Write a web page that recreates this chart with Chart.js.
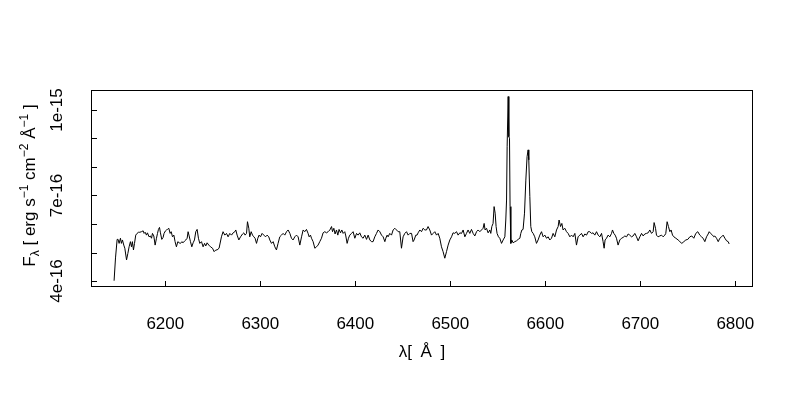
<!DOCTYPE html>
<html>
<head>
<meta charset="utf-8">
<title>Spectrum</title>
<script src="https://cdn.jsdelivr.net/npm/chart.js@4/dist/chart.umd.min.js"></script>
<style>
    body { margin: 0; background: #fff; }
    canvas { display: block; }
</style>
</head>
<body>
<canvas id="spectrum" width="800" height="400"></canvas>
<script>
// wavelength in Angstrom, flux in units of 1e-16 erg s^-1 cm^-2 A^-1
const wavelength = [
    6146.1, 6147.6, 6149.3, 6150.3, 6151.4, 6152.8, 6153.8, 6154.9, 6156.3, 6157.4,
    6159.2, 6160.6, 6161.9, 6163.3, 6164.4, 6165.4, 6166.5, 6167.6, 6168.9, 6170.3,
    6171.8, 6173.2, 6174.9, 6176.7, 6177.7, 6178.8, 6180.2, 6181.2, 6182.9, 6184.3,
    6185.5, 6186.5, 6187.9, 6189.3, 6190.7, 6191.8, 6192.8, 6193.9, 6194.9, 6196.3,
    6197.7, 6198.7, 6200.2, 6201.2, 6202.3, 6203.7, 6205.1, 6206.2, 6207.6, 6209.0,
    6210.3, 6211.7, 6213.2, 6214.6, 6216.0, 6217.4, 6218.7, 6220.5, 6221.6, 6223.0,
    6224.0, 6225.1, 6226.5, 6227.9, 6229.3, 6230.7, 6232.1, 6233.5, 6234.9, 6236.3,
    6238.1, 6239.8, 6241.3, 6242.6, 6244.0, 6245.8, 6247.6, 6249.7, 6251.4, 6253.2,
    6254.5, 6256.6, 6259.1, 6260.8, 6262.6, 6264.4, 6266.1, 6267.9, 6269.7, 6271.4,
    6273.2, 6274.2, 6275.6, 6277.4, 6279.2, 6281.3, 6282.6, 6284.0, 6285.5, 6286.5,
    6287.9, 6288.9, 6290.4, 6291.8, 6293.2, 6294.5, 6296.0, 6297.4, 6298.7, 6300.2,
    6301.9, 6303.7, 6305.5, 6307.2, 6308.9, 6310.0, 6311.8, 6313.5, 6315.3, 6317.0,
    6318.7, 6320.5, 6322.3, 6324.0, 6325.8, 6327.6, 6329.3, 6331.1, 6332.8, 6334.5,
    6336.3, 6338.1, 6339.8, 6341.6, 6343.4, 6345.1, 6346.8, 6348.6, 6350.3, 6351.4,
    6352.8, 6353.9, 6355.6, 6357.4, 6359.2, 6360.8, 6362.6, 6364.4, 6366.1, 6367.9,
    6369.7, 6371.4, 6373.2, 6375.0, 6376.0, 6377.4, 6378.7, 6380.2, 6381.6, 6382.9,
    6384.4, 6385.8, 6387.2, 6388.9, 6390.0, 6391.4, 6392.8, 6394.2, 6396.0, 6397.7,
    6399.5, 6401.3, 6403.0, 6404.7, 6406.5, 6408.2, 6410.0, 6411.8, 6413.5, 6415.3,
    6417.0, 6418.7, 6420.5, 6422.3, 6424.0, 6425.8, 6427.6, 6429.3, 6431.1, 6432.1,
    6433.5, 6434.5, 6436.3, 6438.1, 6439.8, 6441.6, 6443.4, 6445.1, 6446.8, 6448.6,
    6450.3, 6452.1, 6453.9, 6455.6, 6457.4, 6459.2, 6460.8, 6461.9, 6463.7, 6465.0,
    6466.1, 6467.9, 6469.7, 6471.4, 6473.2, 6474.9, 6476.6, 6478.4, 6480.2, 6481.9,
    6483.7, 6485.5, 6487.2, 6488.9, 6490.7, 6492.4, 6494.2, 6496.0, 6497.7, 6499.5,
    6501.3, 6502.9, 6504.7, 6506.5, 6508.2, 6510.0, 6511.8, 6513.5, 6515.3, 6517.0,
    6518.7, 6520.5, 6522.3, 6524.0, 6525.8, 6527.6, 6529.3, 6531.1, 6532.8, 6534.5,
    6535.6, 6536.6, 6538.1, 6539.8, 6541.6, 6542.6, 6543.7, 6545.0, 6546.1, 6547.2,
    6548.2, 6549.2, 6550.7, 6552.1, 6553.9, 6555.6, 6557.4, 6558.4, 6559.2, 6559.8,
    6560.9, 6561.6, 6562.3, 6562.9, 6563.7, 6564.7, 6566.1, 6567.9, 6569.7, 6571.4,
    6573.2, 6574.2, 6575.3, 6576.6, 6578.1, 6579.5, 6580.8, 6581.9, 6582.6, 6583.7,
    6584.7, 6585.8, 6587.2, 6588.9, 6590.7, 6592.4, 6594.2, 6596.0, 6597.7, 6599.5,
    6601.3, 6603.0, 6604.7, 6606.5, 6608.2, 6610.0, 6611.8, 6613.5, 6614.5, 6616.0,
    6617.4, 6618.7, 6620.5, 6622.3, 6624.0, 6625.8, 6627.6, 6629.3, 6631.1, 6632.8,
    6634.5, 6636.3, 6638.1, 6639.8, 6641.6, 6643.4, 6645.1, 6646.8, 6648.6, 6650.3,
    6652.1, 6653.9, 6655.6, 6657.4, 6659.2, 6660.8, 6661.9, 6662.9, 6664.4, 6666.1,
    6667.9, 6669.7, 6670.7, 6672.1, 6673.5, 6674.9, 6676.6, 6678.4, 6680.2, 6681.9,
    6683.7, 6685.5, 6687.2, 6688.9, 6690.7, 6692.4, 6694.2, 6696.0, 6697.7, 6699.5,
    6701.3, 6703.0, 6704.7, 6706.5, 6708.2, 6710.0, 6711.8, 6713.5, 6714.5, 6716.0,
    6717.0, 6718.7, 6720.5, 6722.3, 6724.0, 6725.8, 6726.8, 6728.2, 6729.6, 6731.1,
    6732.4, 6733.9, 6735.3, 6737.4, 6739.8, 6741.6, 6743.7, 6745.8, 6747.9, 6750.0,
    6752.1, 6754.2, 6756.3, 6758.4, 6760.5, 6762.6, 6764.4, 6766.1, 6767.9, 6769.7,
    6771.4, 6772.5, 6773.9, 6776.0, 6777.4, 6778.4, 6780.2, 6782.0, 6783.7, 6785.5,
    6787.2, 6789.0, 6790.8, 6792.5, 6793.5
]

const flux = [
    4.01, 4.81, 5.46, 5.46, 5.32, 5.50, 5.32, 5.44, 5.26, 5.15,
    4.74, 4.97, 5.20, 5.38, 5.20, 5.38, 5.09, 5.32, 5.61, 5.67,
    5.71, 5.71, 5.73, 5.76, 5.67, 5.71, 5.61, 5.69, 5.55, 5.58,
    5.50, 5.67, 5.58, 5.26, 5.50, 5.67, 5.81, 5.88, 5.69, 5.46,
    5.53, 5.67, 5.76, 5.79, 5.81, 5.85, 5.67, 5.73, 5.55, 5.61,
    5.38, 5.20, 5.38, 5.34, 5.32, 5.38, 5.34, 5.41, 5.44, 5.50,
    5.73, 5.58, 5.38, 5.20, 5.34, 5.44, 5.73, 5.81, 5.50, 5.32,
    5.38, 5.20, 5.32, 5.23, 5.34, 5.26, 5.20, 5.15, 5.03, 5.09,
    5.09, 5.15, 5.55, 5.73, 5.61, 5.67, 5.55, 5.67, 5.61, 5.69,
    5.73, 5.79, 5.61, 5.44, 5.55, 5.65, 5.69, 5.61, 5.67, 6.08,
    5.85, 5.55, 5.73, 5.61, 5.55, 5.50, 5.32, 5.50, 5.61, 5.55,
    5.67, 5.61, 5.55, 5.61, 5.55, 5.44, 5.32, 5.38, 5.20, 5.09,
    5.32, 5.55, 5.61, 5.67, 5.61, 5.73, 5.79, 5.67, 5.50, 5.44,
    5.55, 5.61, 5.55, 5.26, 5.55, 5.79, 5.73, 5.81, 5.67, 5.55,
    5.61, 5.50, 5.38, 5.15, 5.20, 5.26, 5.38, 5.50, 5.69, 5.73,
    5.69, 5.73, 5.79, 5.91, 5.73, 5.85, 5.65, 5.79, 5.61, 5.81,
    5.69, 5.79, 5.67, 5.73, 5.58, 5.32, 5.50, 5.61, 5.67, 5.73,
    5.50, 5.67, 5.61, 5.69, 5.55, 5.50, 5.61, 5.46, 5.61, 5.44,
    5.38, 5.38, 5.55, 5.67, 5.79, 5.73, 5.61, 5.55, 5.38, 5.50,
    5.61, 5.55, 5.67, 5.61, 5.79, 5.85, 5.79, 5.73, 5.73, 5.15,
    5.55, 5.67, 5.73, 5.61, 5.67, 5.67, 5.38, 5.44, 5.61, 5.61,
    5.69, 5.79, 5.73, 5.85, 5.79, 5.79, 5.91, 5.79, 5.61, 5.67,
    5.73, 5.61, 5.67, 5.50, 5.20, 5.03, 4.80, 5.03, 5.26, 5.44,
    5.55, 5.69, 5.67, 5.73, 5.61, 5.69, 5.67, 5.79, 5.55, 5.67,
    5.79, 5.67, 5.81, 5.67, 5.58, 5.73, 5.79, 5.73, 5.79, 5.85,
    6.02, 5.79, 5.85, 5.69, 5.79, 5.67, 5.91, 6.02, 6.61, 6.38,
    5.91, 5.67, 5.55, 5.50, 5.32, 5.44, 5.55, 6.14, 6.84, 8.71,
    10.47, 9.06, 9.01, 6.61, 5.32, 5.44, 5.34, 5.38, 5.41, 5.46,
    5.50, 5.67, 5.79, 5.81, 6.38, 7.54, 8.36, 8.60, 8.25, 6.96,
    5.91, 5.73, 5.67, 5.55, 5.32, 5.44, 5.61, 5.73, 5.55, 5.61,
    5.50, 5.55, 5.44, 5.50, 5.67, 5.55, 5.79, 5.91, 6.14, 5.91,
    6.02, 5.79, 5.85, 5.73, 5.67, 5.55, 5.61, 5.55, 5.67, 5.26,
    5.55, 5.61, 5.67, 5.55, 5.65, 5.61, 5.73, 5.73, 5.67, 5.69,
    5.61, 5.73, 5.61, 5.55, 5.67, 5.38, 5.15, 5.44, 5.50, 5.61,
    5.55, 5.67, 5.79, 5.67, 5.61, 5.50, 5.26, 5.44, 5.50, 5.53,
    5.58, 5.55, 5.65, 5.61, 5.55, 5.58, 5.67, 5.55, 5.41, 5.55,
    5.67, 5.58, 5.65, 5.67, 5.69, 5.79, 5.67, 5.73, 6.05, 5.85,
    5.61, 5.55, 5.58, 5.61, 5.55, 5.61, 5.67, 6.08, 5.91, 5.73,
    5.79, 5.61, 5.55, 5.50, 5.44, 5.38, 5.32, 5.38, 5.44, 5.46,
    5.55, 5.58, 5.50, 5.67, 5.73, 5.61, 5.55, 5.50, 5.38, 5.55,
    5.65, 5.73, 5.67, 5.61, 5.55, 5.58, 5.50, 5.38, 5.50, 5.55,
    5.61, 5.50, 5.41, 5.38, 5.30
]

const xTicks = [6200, 6300, 6400, 6500, 6600, 6700, 6800]
const yTicks = [4, 5, 6, 7, 8, 9, 10]
const yTickLabels = ['4e-16', '', '', '7e-16', '', '', '1e-15']

// axis ranges, R style (data range plus 4%)
const xMin = 6121.8, xMax = 6818.6
const yMin = 3.79, yMax = 10.70

const FONT = '"Liberation Sans", Arial, Helvetica, sans-serif'

const points = wavelength.map((w, i) => ({ x: w, y: flux[i] }))

// pieces of the y title: text, font size, baseline shift (negative = raised)
const yTitleParts = [
    ['F', 17, 0], ['λ', 12, 4], [' [ erg s', 17, 0], ['−1', 12, -7],
    [' cm', 17, 0], ['−2', 12, -7], [' Å', 17, 0], ['−1', 12, -7], [' ]', 17, 0]
]

// frame, inward ticks, rotated y labels and titles, drawn like base R graphics
const rAxes = {
    id: 'rAxes',
    afterDraw(chart) {
        const ctx = chart.ctx
        const area = chart.chartArea
        const xs = chart.scales.x
        const ys = chart.scales.y
        ctx.save()
        ctx.strokeStyle = '#000'
        ctx.lineWidth = 1
        ctx.strokeRect(area.left + 0.5, area.top + 0.5, area.right - area.left - 1, area.bottom - area.top - 1)

        ctx.beginPath()
        xTicks.forEach(v => {
            const px = Math.round(xs.getPixelForValue(v)) + 0.5
            ctx.moveTo(px, area.bottom - 1)
            ctx.lineTo(px, area.bottom - 6)
        })
        yTicks.forEach(v => {
            const py = Math.round(ys.getPixelForValue(v)) + 0.5
            ctx.moveTo(area.left + 1, py)
            ctx.lineTo(area.left + 6, py)
        })
        ctx.stroke()

        ctx.fillStyle = '#000'
        ctx.font = '17px ' + FONT
        ctx.textAlign = 'center'
        ctx.textBaseline = 'middle'
        yTicks.forEach((v, i) => {
            if (!yTickLabels[i]) return
            ctx.save()
            ctx.translate(57, ys.getPixelForValue(v))
            ctx.rotate(-Math.PI / 2)
            ctx.fillText(yTickLabels[i], 0, 0)
            ctx.restore()
        })

        // x title (wider spaces, like plotmath)
        ctx.textBaseline = 'alphabetic'
        ctx.fillText('λ[\u2002Å\u2002]', (area.left + area.right) / 2, 357)

        // y title with sub/superscripts
        let total = 0
        yTitleParts.forEach(p => {
            ctx.font = p[1] + 'px ' + FONT
            total += ctx.measureText(p[0]).width
        })
        ctx.save()
        ctx.translate(35, (area.top + area.bottom) / 2 - 3)
        ctx.rotate(-Math.PI / 2)
        ctx.textAlign = 'left'
        let pos = -total / 2
        yTitleParts.forEach(p => {
            ctx.font = p[1] + 'px ' + FONT
            ctx.fillText(p[0], pos, p[2])
            pos += ctx.measureText(p[0]).width
        })
        ctx.restore()
        ctx.restore()
    }
}

const canvas = document.getElementById('spectrum')
const specChart = new Chart(canvas, {
    type: 'line',
    data: {
        datasets: [{
            data: points,
            borderColor: '#000',
            borderWidth: 1,
            pointRadius: 0,
            fill: false,
            tension: 0
        }]
    },
    options: {
        responsive: false,
        animation: false,
        events: [],
        layout: {
            padding: { left: 91, top: 90, right: 47, bottom: 0 }
        },
        plugins: {
            legend: { display: false },
            tooltip: { enabled: false }
        },
        scales: {
            x: {
                type: 'linear',
                min: xMin,
                max: xMax,
                afterBuildTicks: scale => {
                    scale.ticks = xTicks.map(v => ({ value: v }))
                },
                afterFit: scale => {
                    scale.height = 113
                },
                grid: { display: false, drawTicks: false },
                border: { display: false },
                ticks: {
                    color: '#000',
                    font: { family: FONT, size: 17 },
                    padding: 27,
                    maxRotation: 0,
                    autoSkip: false,
                    callback: value => String(value)
                }
            },
            y: {
                type: 'linear',
                display: false,
                min: yMin,
                max: yMax
            }
        }
    },
    plugins: [rAxes]
});
</script>
</body>
</html>
